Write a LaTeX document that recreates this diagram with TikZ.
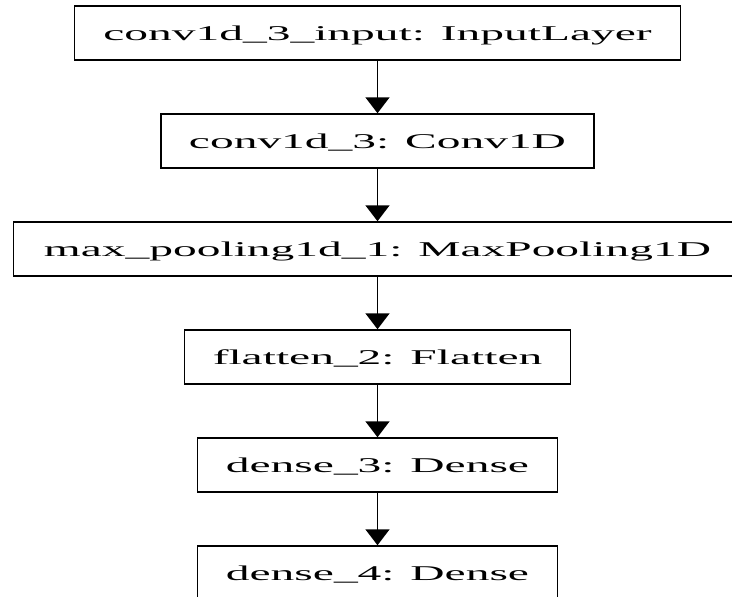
\documentclass[tikz,border=0pt]{standalone}
\usepackage{fontspec}
\setmainfont{Liberation Serif}[FakeStretch=2.26]
\usetikzlibrary{arrows.meta}
\begin{document}
\begin{tikzpicture}[x=1pt,y=-1pt,
  layer/.style={draw=black, line width=1.5pt, inner sep=0pt, minimum height=54pt,
    text height=14pt, text depth=0pt, font=\fontsize{21}{25}\selectfont},
  flow/.style={-{Triangle[width=24pt,length=16pt]}, line width=1.8pt}]
\useasboundingbox (0,0) rectangle (732,597);
\node[layer, minimum width=606pt] (n1) at (377.5,33) {conv1d\_3\_input: InputLayer};
\node[layer, minimum width=433pt] (n2) at (377.5,141) {conv1d\_3: Conv1D};
\node[layer, minimum width=728pt] (n3) at (377.5,249) {max\_pooling1d\_1: MaxPooling1D};
\node[layer, minimum width=386pt] (n4) at (377.5,357) {flatten\_2: Flatten};
\node[layer, minimum width=360pt] (n5) at (377.5,465) {dense\_3: Dense};
\node[layer, minimum width=360pt] (n6) at (377.5,573) {dense\_4: Dense};
\draw[flow] (n1) -- (n2);
\draw[flow] (n2) -- (n3);
\draw[flow] (n3) -- (n4);
\draw[flow] (n4) -- (n5);
\draw[flow] (n5) -- (n6);
\end{tikzpicture}
\end{document}
